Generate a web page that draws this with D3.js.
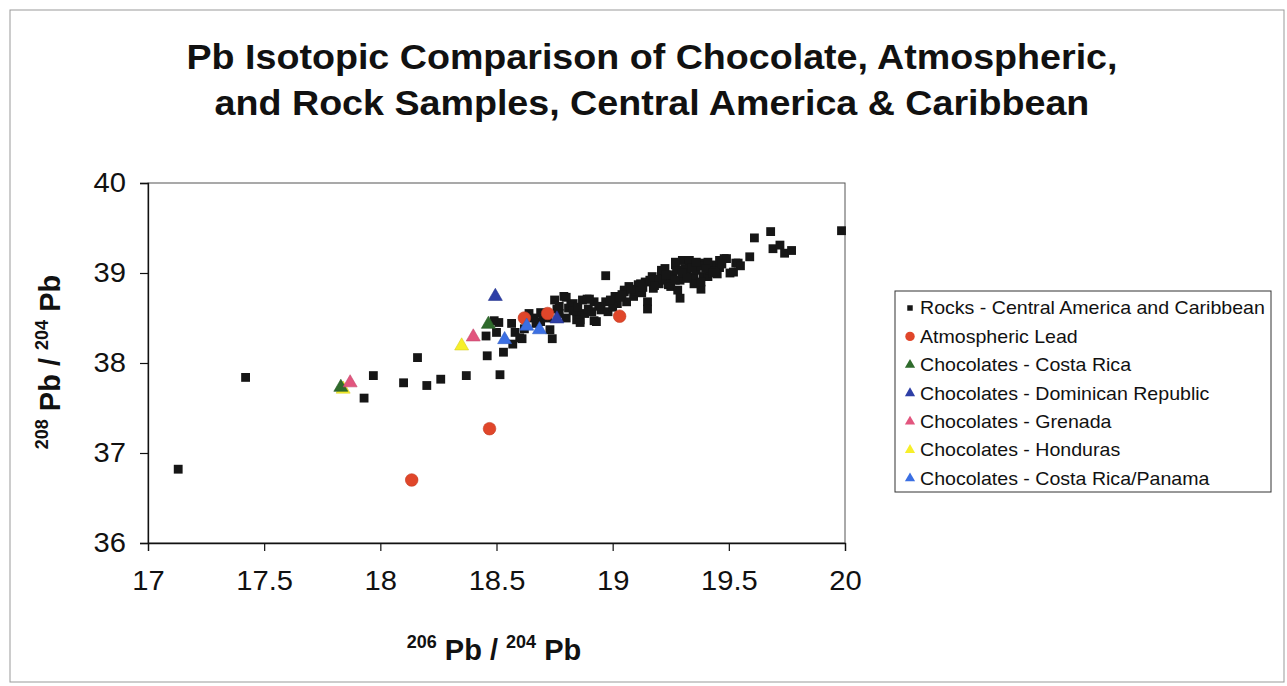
<!DOCTYPE html>
<html><head><meta charset="utf-8">
<script src="https://cdn.jsdelivr.net/npm/d3@7"></script>
<style>
html,body{margin:0;padding:0;background:#fff;}
svg{display:block;font-family:"Liberation Sans",Arial,sans-serif;}
</style></head>
<body>
<svg id="chart" width="1287" height="686"></svg>
<script>
// ---- data (206Pb/204Pb, 208Pb/204Pb) ----
const rocks = [
 [17.13,36.82],[17.42,37.84],[17.93,37.61],[17.97,37.86],[18.10,37.78],[18.16,38.06],[18.20,37.75],
 [18.26,37.82],[18.37,37.86],[18.515,37.87],[18.46,38.08],[18.53,38.12],[18.455,38.30],[18.49,38.47],
 [18.50,38.34],[18.51,38.45],[18.565,38.44],[18.57,38.21],[18.61,38.27],[18.58,38.34],[18.60,38.28],
 [18.64,38.55],[18.66,38.50],[18.67,38.44],[18.69,38.46],[18.69,38.56],[18.73,38.37],[18.74,38.27],
 [18.75,38.70],[18.77,38.63],[18.79,38.74],[18.77,38.55],[18.80,38.50],[18.81,38.61],[18.82,38.64],
 [18.83,38.66],[18.845,38.57],[18.845,38.48],[18.86,38.48],[18.87,38.70],[18.88,38.55],[18.89,38.71],
 [18.895,38.60],[18.92,38.47],[18.92,38.68],[18.95,38.59],[18.97,38.68],[18.97,38.97],[18.98,38.57],
 [19.01,38.74],[19.02,38.66],[19.05,38.79],[19.06,38.68],[19.07,38.85],[19.09,38.74],[19.11,38.87],
 [19.125,38.78],[19.14,38.90],[19.15,38.68],[19.15,38.60],[19.17,38.96],[19.175,38.83],[19.20,38.88],
 [19.21,39.00],[19.22,38.92],[19.225,39.05],[19.24,38.87],[19.25,38.96],[19.25,38.85],[19.26,38.98],
 [19.27,39.09],[19.275,39.03],[19.28,38.81],[19.29,38.92],[19.29,38.72],[19.30,39.14],[19.32,39.02],
 [19.33,39.11],[19.35,38.96],[19.36,39.03],[19.38,38.82],[19.39,39.11],[19.39,38.96],[19.41,38.96],
 [19.42,39.03],[19.43,39.09],[19.46,39.06],[19.46,39.14],[19.48,39.16],[19.505,39.00],[19.53,39.11],
 [19.54,39.11],[19.55,39.08],[19.59,39.18],[19.61,39.39],[19.68,39.46],[19.69,39.27],[19.72,39.31],
 [19.74,39.22],[19.77,39.25],[19.985,39.47],
 [18.80,38.73],[18.90,38.71],[18.83,38.58],[18.86,38.45],[18.93,38.46],[19.03,38.73],[19.05,38.81],
 [19.12,38.88],[19.21,39.03],[19.27,39.12],[19.33,39.14],[19.41,39.12],[19.49,39.16],[19.27,38.92],
 [19.35,38.88],[19.45,38.99],[19.52,39.01],[18.72,38.50],[18.94,38.63],[19.00,38.62],[19.10,38.80],
 [19.19,38.93],[19.31,39.05],[19.37,39.08],[19.44,39.02],
 [18.62,38.38],[18.70,38.52],[18.76,38.60],[18.85,38.62],[18.91,38.57],[18.99,38.70],[19.04,38.76],
 [19.08,38.82],[19.13,38.84],[19.16,38.92],[19.18,38.86],[19.23,38.98],[19.30,39.00],[19.34,39.06],
 [19.36,39.12],[19.40,39.05],[19.43,39.00],[19.47,39.10],[19.38,38.90],[19.32,38.94]
];
const atmospheric = [[18.135,36.70],[18.47,37.27],[18.62,38.50],[18.72,38.55],[19.03,38.52]];
const chocCostaRica = [[17.83,37.73],[18.465,38.43]];
const chocDominican = [[18.495,38.74],[18.76,38.49]];
const chocGrenada = [[17.87,37.78],[18.40,38.29]];
const chocHonduras = [[17.84,37.71],[18.35,38.19]];
const chocCRPanama = [[18.535,38.26],[18.63,38.41],[18.685,38.37]];

const xTicks = [17, 17.5, 18, 18.5, 19, 19.5, 20];
const yTicks = [36, 37, 38, 39, 40];

const seriesNames = ["Rocks - Central America and Caribbean","Atmospheric Lead","Chocolates - Costa Rica",
  "Chocolates - Dominican Republic","Chocolates - Grenada","Chocolates - Honduras","Chocolates - Costa Rica/Panama"];
const titleLines = ["Pb Isotopic Comparison of Chocolate, Atmospheric,","and Rock Samples, Central America & Caribbean"];

// ---- styles ----
const series = [
  {name:seriesNames[0], data:rocks, shape:d3.symbolSquare, size:78, color:"#161616", lsize:30},
  {name:seriesNames[1], data:atmospheric, shape:d3.symbolCircle, size:125, color:"#e0462a", lsize:70},
  {name:seriesNames[2], data:chocCostaRica, shape:d3.symbolTriangle, size:85, color:"#2f6b2c", lsize:45},
  {name:seriesNames[3], data:chocDominican, shape:d3.symbolTriangle, size:85, color:"#2e3fa6", lsize:45},
  {name:seriesNames[4], data:chocGrenada, shape:d3.symbolTriangle, size:85, color:"#e2557e", lsize:45},
  {name:seriesNames[5], data:chocHonduras, shape:d3.symbolTriangle, size:85, color:"#f7ef2a", lsize:45},
  {name:seriesNames[6], data:chocCRPanama, shape:d3.symbolTriangle, size:85, color:"#3b6fe3", lsize:45}
];
const drawOrder = [0,1,5,2,3,4,6];

const svg = d3.select("#chart");
// stretch helper (the reference text is slightly wide)
function stretch(sel, f){
  sel.each(function(){
    const w = this.getComputedTextLength();
    d3.select(this).attr("textLength", w*f).attr("lengthAdjust","spacingAndGlyphs");
  });
}

// outer frame
svg.append("rect").attr("x",10).attr("y",10).attr("width",1274).attr("height",672)
  .attr("fill","none").attr("stroke","#999").attr("stroke-width",1);

const L = 148, R = 845, T = 183, B = 543;
const x = d3.scaleLinear().domain([17,20]).range([L,R]);
const y = d3.scaleLinear().domain([36,40]).range([B,T]);

// title
const tt = svg.append("g").selectAll("text").data(titleLines).join("text")
  .attr("x",652).attr("y",(d,i)=>69+i*46).attr("text-anchor","middle")
  .attr("font-size",35).attr("font-weight","bold").attr("fill","#111").text(d=>d);
stretch(tt, 1.075);

// plot border
svg.append("rect").attr("x",L).attr("y",T).attr("width",R-L).attr("height",B-T)
  .attr("fill","none").attr("stroke","#555").attr("stroke-width",1);

// axes
const xAxis = svg.append("g").attr("transform",`translate(0,${B})`)
  .call(d3.axisBottom(x).tickValues(xTicks).tickSize(8).tickPadding(20).tickFormat(d3.format("")));
const yAxis = svg.append("g").attr("transform",`translate(${L},0)`)
  .call(d3.axisLeft(y).tickValues(yTicks).tickSize(8).tickPadding(14).tickFormat(d3.format("")));
[xAxis,yAxis].forEach(a=>{
  a.select(".domain").attr("stroke","#111").attr("stroke-width",1.3);
  a.selectAll(".tick line").attr("stroke","#111").attr("stroke-width",1.2);
  a.selectAll(".tick text").attr("font-size",27).attr("fill","#111")
   .attr("font-family","'Liberation Sans',Arial,sans-serif");
  stretch(a.selectAll(".tick text"), 1.08);
});
xAxis.selectAll(".tick text").attr("dy","0.71em");

// axis titles
const xt = svg.append("text").attr("x",494).attr("y",660).attr("text-anchor","middle")
  .attr("fill","#111").attr("font-weight","bold");
xt.append("tspan").attr("font-size",18).attr("dy",-12).text("206");
xt.append("tspan").attr("font-size",29).attr("dy",12).text(" Pb / ");
xt.append("tspan").attr("font-size",18).attr("dy",-12).text("204");
xt.append("tspan").attr("font-size",29).attr("dy",12).text(" Pb");

const yt = svg.append("text").attr("transform","translate(60,362) rotate(-90)").attr("text-anchor","middle")
  .attr("fill","#111").attr("font-weight","bold");
yt.append("tspan").attr("font-size",18).attr("dy",-12).text("208");
yt.append("tspan").attr("font-size",29).attr("dy",12).text(" Pb / ");
yt.append("tspan").attr("font-size",18).attr("dy",-12).text("204");
yt.append("tspan").attr("font-size",29).attr("dy",12).text(" Pb");

// points
const plot = svg.append("g");
drawOrder.forEach(i=>{
  const s = series[i];
  plot.append("g").selectAll("path").data(s.data).join("path")
    .attr("transform",d=>`translate(${x(d[0])},${y(d[1])})`)
    .attr("d",d3.symbol().type(s.shape).size(s.size)())
    .attr("fill",s.color)
    .attr("stroke", i===0 ? "none" : d3.color(s.color).darker(0.4))
    .attr("stroke-width",0.6);
});

// legend
const lg = svg.append("g");
lg.append("rect").attr("x",895).attr("y",291).attr("width",376).attr("height",201)
  .attr("fill","#fff").attr("stroke","#333").attr("stroke-width",1);
const items = lg.selectAll("g.item").data(series).join("g").attr("class","item")
  .attr("transform",(d,i)=>`translate(0,${308+i*28.4})`);
items.append("path").attr("transform","translate(910,0)")
  .attr("d",d=>d3.symbol().type(d.shape).size(d.lsize)()).attr("fill",d=>d.color);
const lt = items.append("text").attr("x",920).attr("y",0).attr("dy","0.35em")
  .attr("font-size",18.5).attr("fill","#111").text(d=>d.name);
stretch(lt, 1.058);
</script>
</body></html>
